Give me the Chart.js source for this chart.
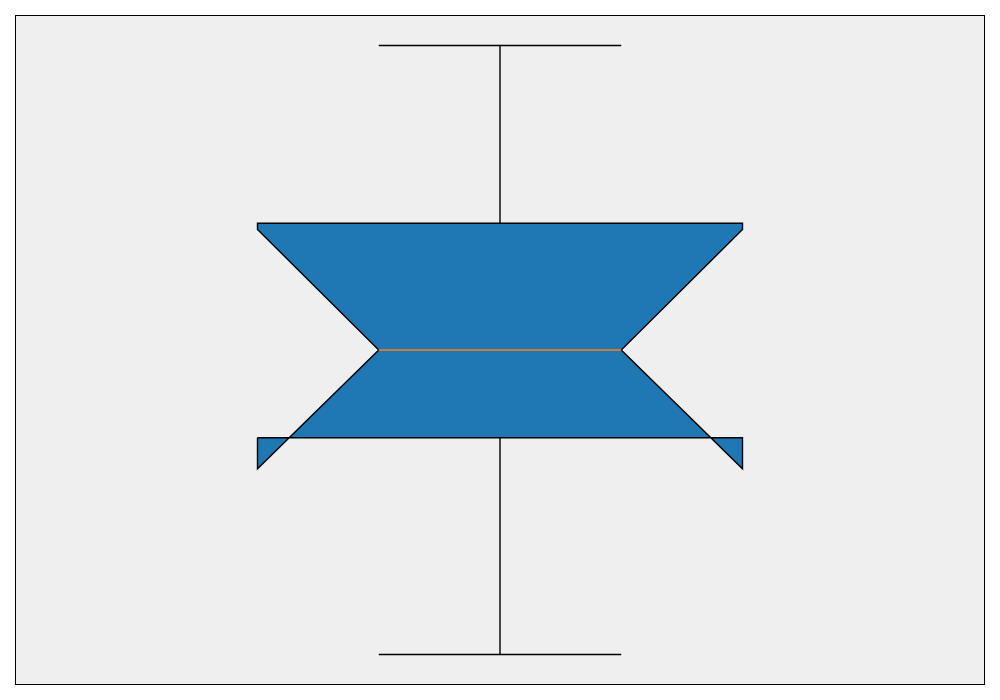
<!DOCTYPE html>
<html lang="en">
    <head>
        <meta charset="UTF-8" />
        <title>Notched Box Plot</title>
        <script src="https://cdn.jsdelivr.net/npm/chart.js"></script>
        <style>
            html, body {
                margin: 0;
                padding: 0;
                background: #ffffff;
            }
            #wrap {
                width: 1000px;
                height: 700px;
            }
        </style>
    </head>
    <body>
        <div id="wrap">
            <canvas id="boxChart" width="1000" height="700"></canvas>
        </div>

        <script>
            // Box plot statistics (one box)
            const positions = [1];
            const whiskerLow = [0.0];
            const q1 = [3.56];
            const median = [5.0];
            const q3 = [7.08];
            const whiskerHigh = [10.0];
            const notchLow = [3.05];
            const notchHigh = [6.98];

            const boxWidth = 0.5;
            const lw = 1.4;

            // Build the datasets from the stats, in drawing order
            const datasets = [];
            positions.forEach((x, i) => {
                const half = boxWidth / 2;
                const nh = half / 2; // notch indent
                const left = x - half, right = x + half;

                // whiskers
                datasets.push(lineSet([{ x: x, y: q1[i] }, { x: x, y: whiskerLow[i] }], "#000"));
                datasets.push(lineSet([{ x: x, y: q3[i] }, { x: x, y: whiskerHigh[i] }], "#000"));
                // caps
                datasets.push(lineSet([{ x: x - nh, y: whiskerLow[i] }, { x: x + nh, y: whiskerLow[i] }], "#000"));
                datasets.push(lineSet([{ x: x - nh, y: whiskerHigh[i] }, { x: x + nh, y: whiskerHigh[i] }], "#000"));

                // notched box outline
                datasets.push({
                    data: [
                        { x: left, y: q1[i] },
                        { x: right, y: q1[i] },
                        { x: right, y: notchLow[i] },
                        { x: x + nh, y: median[i] },
                        { x: right, y: notchHigh[i] },
                        { x: right, y: q3[i] },
                        { x: left, y: q3[i] },
                        { x: left, y: notchHigh[i] },
                        { x: x - nh, y: median[i] },
                        { x: left, y: notchLow[i] },
                        { x: left, y: q1[i] },
                    ],
                    showLine: true,
                    fill: "shape",
                    backgroundColor: "#1f77b4",
                    borderColor: "#000000",
                    borderWidth: lw,
                    pointRadius: 0,
                    tension: 0,
                });

                // median
                datasets.push(lineSet([{ x: x - nh, y: median[i] }, { x: x + nh, y: median[i] }], "#ff7f0e"));
            });
            // Chart.js paints dataset 0 on top, so give later ones higher priority
            datasets.forEach((d, k) => (d.order = datasets.length - k));

            function lineSet(points, color) {
                return {
                    data: points,
                    showLine: true,
                    fill: false,
                    borderColor: color,
                    borderWidth: lw,
                    pointRadius: 0,
                    tension: 0,
                };
            }

            // y range with 5% margins like matplotlib
            const lo = Math.min(...whiskerLow, ...notchLow);
            const hi = Math.max(...whiskerHigh, ...notchHigh);
            const pad = (hi - lo) * 0.05;

            // Axes background and frame
            const frame = {
                id: "frame",
                beforeDraw(chart) {
                    const { ctx, chartArea: a } = chart;
                    ctx.save();
                    ctx.fillStyle = "#efefef";
                    ctx.fillRect(a.left, a.top, a.right - a.left, a.bottom - a.top);
                    ctx.restore();
                },
                afterDraw(chart) {
                    const { ctx, chartArea: a } = chart;
                    ctx.save();
                    ctx.strokeStyle = "#000000";
                    ctx.lineWidth = 1;
                    ctx.strokeRect(a.left + 0.5, a.top + 0.5, a.right - a.left - 1, a.bottom - a.top - 1);
                    ctx.restore();
                },
            };

            new Chart(document.getElementById("boxChart"), {
                type: "scatter",
                data: { datasets: datasets },
                options: {
                    responsive: false,
                    animation: false,
                    layout: { padding: { left: 15, right: 15, top: 15, bottom: 15 } },
                    plugins: {
                        legend: { display: false },
                        tooltip: { enabled: false },
                    },
                    scales: {
                        x: { type: "linear", min: 0.5, max: 1.5, display: false },
                        y: { type: "linear", min: lo - pad, max: hi + pad, display: false },
                    },
                },
                plugins: [frame],
            });
        </script>
    </body>
</html>
